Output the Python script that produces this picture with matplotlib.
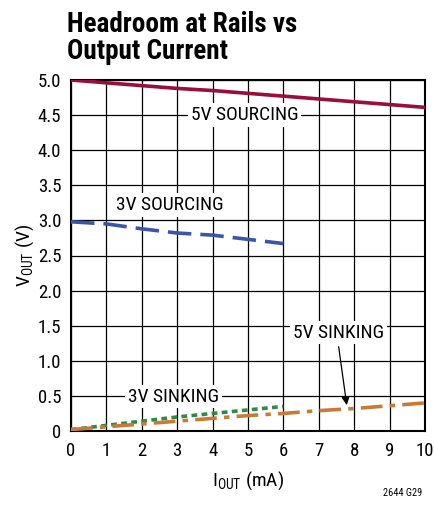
import matplotlib
matplotlib.use("Agg")
import matplotlib.pyplot as plt

plt.rcParams['font.family'] = ['Roboto Condensed', 'DejaVu Sans']
plt.rcParams['mathtext.fontset'] = 'custom'
plt.rcParams['mathtext.rm'] = 'Roboto Condensed'

x_src5 = [0, 1, 2, 3, 4, 5, 6, 7, 8, 9, 10]
y_src5 = [5.00, 4.96, 4.92, 4.88, 4.85, 4.81, 4.77, 4.73, 4.69, 4.65, 4.61]
x_src3 = [0, 1, 2, 3, 4, 5, 6]
y_src3 = [2.98, 2.95, 2.88, 2.82, 2.79, 2.73, 2.67]
x_snk3 = [0, 1, 2, 3, 4, 5, 6]
y_snk3 = [0.02, 0.08, 0.14, 0.20, 0.25, 0.30, 0.35]
x_snk5 = [0, 1, 2, 3, 4, 5, 6, 7, 8, 9, 10]
y_snk5 = [0.02, 0.06, 0.10, 0.14, 0.18, 0.22, 0.25, 0.29, 0.32, 0.36, 0.40]

xticks = [0, 1, 2, 3, 4, 5, 6, 7, 8, 9, 10]
yticks = [0, 0.5, 1.0, 1.5, 2.0, 2.5, 3.0, 3.5, 4.0, 4.5, 5.0]
ytick_labels = ['0', '0.5', '1.0', '1.5', '2.0', '2.5', '3.0', '3.5', '4.0', '4.5', '5.0']

fig = plt.figure(figsize=(4.35, 5.14), dpi=100)
ax = fig.add_axes([71/435, 1-431/514, 354/435, 351/514])

ax.plot(x_src5, y_src5, color='#9a0d3c', lw=2.6, solid_capstyle='butt', zorder=4)
ax.plot(x_src3, y_src3, color='#3a56a8', lw=2.6, dashes=(6.5, 2.5), zorder=4)
ax.plot(x_snk3, y_snk3, color='#2f8a48', lw=2.6, dashes=(1.6, 1.2), zorder=4)
ax.plot(x_snk5, y_snk5, color='#c97a33', lw=2.6, dashes=(6, 2, 1.5, 2), zorder=4)

ax.set_xlim(0, 10)
ax.set_ylim(0, 5)
ax.set_xticks(xticks)
ax.set_yticks(yticks)
ax.set_yticklabels(ytick_labels)
ax.grid(True, color='black', lw=0.9)
ax.set_axisbelow(True)
ax.tick_params(length=0, labelsize=13.5)
ax.tick_params(axis='x', pad=8)
ax.tick_params(axis='y', pad=7)
for s in ax.spines.values():
    s.set_linewidth(1.5)

bbox = dict(facecolor='white', edgecolor='none', pad=2)
fs = 14
ax.text(4.9, 4.5, '5V SOURCING', ha='center', va='center', fontsize=fs, bbox=bbox, zorder=5)
ax.text(2.8, 3.22, '3V SOURCING', ha='center', va='center', fontsize=fs, bbox=bbox, zorder=5)
ax.text(7.55, 1.40, '5V SINKING', ha='center', va='center', fontsize=fs, bbox=bbox, zorder=5)
ax.text(2.9, 0.49, '3V SINKING', ha='center', va='center', fontsize=fs, bbox=bbox, zorder=5)
ax.annotate('', xy=(7.8, 0.33), xytext=(7.55, 1.24),
            arrowprops=dict(arrowstyle='-|>', color='black', lw=0.9, mutation_scale=12), zorder=6)

ax.set_xlabel('I$_{\\mathregular{OUT}}$ (mA)', fontsize=14, labelpad=7)
ax.set_ylabel('V$_{\\mathregular{OUT}}$ (V)', fontsize=14, labelpad=1)

fig.text(67/435, 1-11/514, 'Headroom at Rails vs\nOutput Current', ha='left', va='top',
         fontsize=19.5, fontweight='bold', linespacing=0.98)
fig.text(422/435, 1-493/514, '2644 G29', ha='right', va='center', fontsize=7.5)

fig.savefig('out.png', dpi=100)
